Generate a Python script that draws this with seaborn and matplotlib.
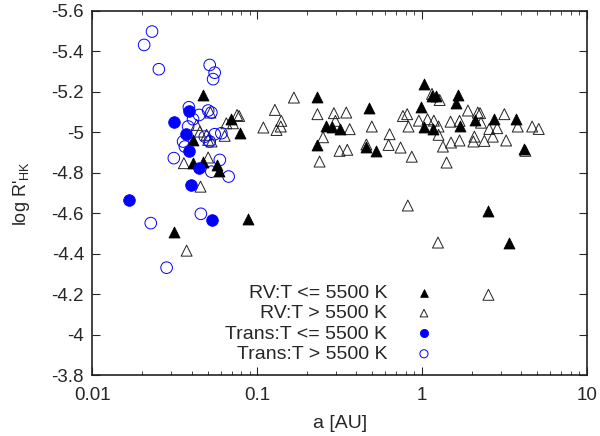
import numpy as np
import matplotlib
matplotlib.use("Agg")
import matplotlib.pyplot as plt
from matplotlib.ticker import LogLocator, NullFormatter, FuncFormatter, MultipleLocator
import pandas as pd
import seaborn as sns

# RV planets, host T <= 5500 K
rv_cool_a = [0.0470, 0.0698, 0.0783, 0.0408, 0.0405, 0.0466, 0.0571, 0.0586, 0.0313, 0.0879,
             0.229, 0.260, 0.284, 0.316, 0.229, 0.477, 0.455, 0.527,
             1.03, 1.15, 1.22, 0.989, 1.03, 1.17, 1.65, 1.60, 1.69, 2.09, 2.75, 3.72, 4.14,
             2.51, 3.36]
rv_cool_r = [-5.185, -5.065, -4.996, -4.963, -4.848, -4.856, -4.840, -4.810, -4.510, -4.571,
             -5.177, -5.032, -5.029, -5.017, -4.938, -5.122, -4.930, -4.909,
             -5.238, -5.180, -5.180, -5.127, -5.029, -5.016, -5.185, -5.144, -5.034, -5.062,
             -5.065, -5.065, -4.917, -4.612, -4.456]

# RV planets, host T > 5500 K
rv_hot_a = [0.0520, 0.0755, 0.0777, 0.0429, 0.0449, 0.0493, 0.0504, 0.0528, 0.0635, 0.0650,
            0.0713, 0.0504, 0.0359, 0.0453, 0.0373,
            0.128, 0.167, 0.109, 0.131, 0.140, 0.139, 0.232, 0.292, 0.347, 0.298, 0.364,
            0.251, 0.239, 0.316, 0.352, 0.496, 0.636, 0.627, 0.741, 0.867, 0.820, 0.766,
            0.813, 0.828, 0.957, 1.08, 1.18, 1.26, 1.15, 1.28, 1.26, 1.34, 1.50, 1.69,
            1.49, 1.69, 1.90, 2.18, 2.25, 2.28, 2.08, 2.05, 2.39, 2.69, 2.56, 2.86, 3.16,
            3.24, 3.81, 4.66, 5.11, 4.24, 1.41, 1.25, 2.53, 0.46]
rv_hot_r = [-5.098, -5.086, -5.081, -5.037, -5.004, -4.988, -4.963, -4.955, -4.983, -5.045,
            -5.045, -4.876, -4.848, -4.732, -4.416,
            -5.111, -5.172, -5.024, -5.012, -5.057, -5.029, -5.090, -5.095, -5.098, -5.057,
            -5.016, -4.976, -4.856, -4.909, -4.914, -5.029, -4.991, -4.938, -4.925, -4.880,
            -4.639, -5.081, -5.090, -5.029, -5.058, -5.065, -5.058, -5.029, -5.190, -5.160,
            -4.988, -4.930, -4.950, -4.960, -5.053, -5.057, -5.108, -5.098, -5.095, -5.048,
            -4.979, -4.955, -4.958, -4.979, -5.017, -5.021, -5.090, -4.960, -5.029, -5.029,
            -5.017, -4.909, -4.851, -4.456, -4.198, -4.94]

# transiting planets, host T <= 5500 K
tr_cool_a = [0.0313, 0.0385, 0.0369, 0.0387, 0.0442, 0.0394, 0.0166, 0.0532]
tr_cool_r = [-5.053, -5.108, -4.993, -4.909, -4.826, -4.741, -4.667, -4.568]

# transiting planets, host T > 5500 K
tr_hot_a = [0.0230, 0.0206, 0.0253, 0.0515, 0.0552, 0.0540, 0.0385, 0.0444, 0.0504, 0.0527,
            0.0408, 0.0381, 0.0481, 0.0552, 0.0606, 0.0515, 0.0355, 0.0364, 0.0312, 0.0593,
            0.0527, 0.0671, 0.0226, 0.0455, 0.0282]
tr_hot_r = [-5.498, -5.432, -5.312, -5.333, -5.295, -5.263, -5.124, -5.086, -5.108, -5.098,
            -5.065, -5.029, -4.979, -4.991, -4.996, -4.955, -4.955, -4.930, -4.873, -4.864,
            -4.806, -4.782, -4.552, -4.598, -4.332]

sns.set_style("ticks")
plt.rcParams['font.family'] = ['Liberation Sans', 'DejaVu Sans']
plt.rcParams['mathtext.fontset'] = 'custom'
plt.rcParams['mathtext.rm'] = 'Liberation Sans'
plt.rcParams['mathtext.it'] = 'Liberation Sans'
plt.rcParams['axes.unicode_minus'] = False

fig, ax = plt.subplots(figsize=(6, 4.36), dpi=100)
fig.subplots_adjust(left=0.154, right=0.978, top=0.975, bottom=0.139)

blue = '#0000ff'
sns.scatterplot(x=rv_cool_a, y=rv_cool_r, ax=ax, marker='^', s=62, color='black',
                edgecolor='black', linewidth=0.6, label='RV:T <= 5500 K', zorder=3)
sns.scatterplot(x=rv_hot_a, y=rv_hot_r, ax=ax, marker='^', s=62, facecolor='none',
                edgecolor='#222222', linewidth=0.7, label='RV:T > 5500 K', zorder=2)
sns.scatterplot(x=tr_cool_a, y=tr_cool_r, ax=ax, marker='o', s=70, color=blue,
                edgecolor=blue, linewidth=0.6, label='Trans:T <= 5500 K', zorder=4)
sns.scatterplot(x=tr_hot_a, y=tr_hot_r, ax=ax, marker='o', s=70, facecolor='none',
                edgecolor=blue, linewidth=0.7, label='Trans:T > 5500 K', zorder=2)

ax.set_xscale('log')
ax.set_xlim(0.01, 10)
ax.set_ylim(-3.8, -5.6)
ax.yaxis.set_major_locator(MultipleLocator(0.2))
ax.yaxis.set_major_formatter(FuncFormatter(lambda v, p: '%g' % round(v, 2)))
ax.xaxis.set_major_formatter(FuncFormatter(lambda v, p: '%g' % v))
ax.xaxis.set_minor_locator(LogLocator(base=10, subs=np.arange(2, 10)))
ax.xaxis.set_minor_formatter(NullFormatter())

ax.tick_params(which='both', direction='in', top=True, right=True, labelsize=13.5)
ax.tick_params(which='major', length=6, width=0.8)
ax.tick_params(which='minor', length=3, width=0.6)
ax.tick_params(axis='x', pad=8)
ax.tick_params(axis='y', pad=6)
for sp in ax.spines.values():
    sp.set_linewidth(1.2)
    sp.set_color('#222222')

ax.set_xlabel('a [AU]', fontsize=14, labelpad=8)
ax.set_ylabel(r"log R$'_{\rm HK}$", fontsize=13, labelpad=14)

leg = ax.legend(loc='lower right', bbox_to_anchor=(0.7375, -0.003), markerfirst=False,
                frameon=False, fontsize=14, handletextpad=0.9, labelspacing=0.14,
                markerscale=0.7, borderpad=0.2)

fig.savefig('out.png', dpi=100)
